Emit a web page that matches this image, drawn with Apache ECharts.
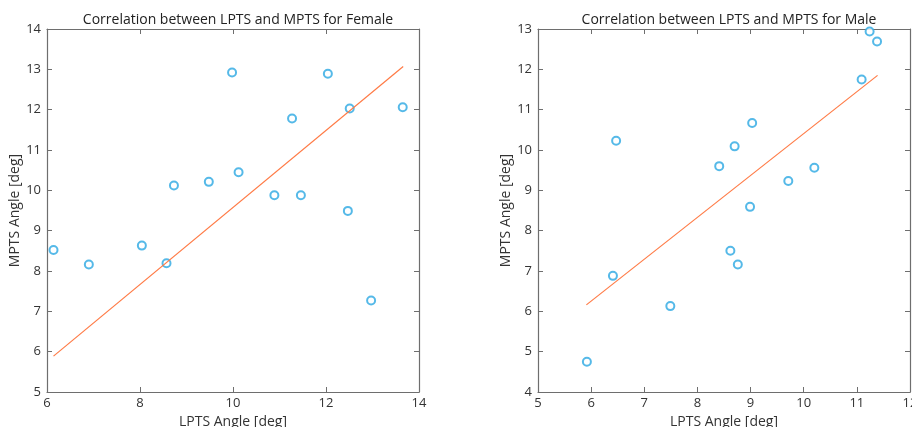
<!DOCTYPE html>
<html>
<head>
<meta charset="utf-8">
<script src="https://cdn.jsdelivr.net/npm/echarts@6/dist/echarts.min.js"></script>
<style>
  html, body { margin: 0; padding: 0; background: #fff; }
  #chart { width: 912px; height: 427px; }
</style>
</head>
<body>
<div id="chart"></div>
<script>
// female: LPTS (x) vs MPTS (y)
const femaleLpts = [6.14, 6.90, 8.04, 8.57, 8.73, 9.48, 9.98, 10.12, 10.89, 11.27, 11.46, 12.04, 12.47, 12.51, 12.97, 13.65];
const femaleMpts = [8.52, 8.16, 8.63, 8.19, 10.12, 10.21, 12.92, 10.45, 9.88, 11.78, 9.88, 12.89, 9.49, 12.03, 7.27, 12.06];
const femaleFitX = [6.14, 13.66];
const femaleFitY = [5.89, 13.07];

// male
const maleLpts = [5.92, 6.41, 6.47, 7.49, 8.41, 8.62, 8.70, 8.76, 8.99, 9.03, 9.71, 10.20, 11.09, 11.24, 11.38];
const maleMpts = [4.75, 6.88, 10.23, 6.13, 9.60, 7.50, 10.09, 7.16, 8.59, 10.67, 9.23, 9.56, 11.75, 12.94, 12.69];
const maleFitX = [5.91, 11.39];
const maleFitY = [6.16, 11.85];

const titles = ['Correlation between LPTS and MPTS for Female', 'Correlation between LPTS and MPTS for Male'];
const xRanges = [[6, 14, 2], [5, 12, 1]];
const yRanges = [[5, 14, 1], [4, 13, 1]];

const FONT = '"Open Sans", "DejaVu Sans", sans-serif';
const AXIS_COLOR = '#6e6e6e';
const MARKER = '#2ba8e2';
const FIT = '#ff7a45';

const pairs = (xs, ys) => xs.map((x, i) => [x, ys[i]]);

function xAxes(gi) {
  const [min, max, interval] = xRanges[gi];
  const base = {
    type: 'value', gridIndex: gi, min, max, interval,
    splitLine: { show: false },
    axisLine: { show: true, onZero: false, lineStyle: { color: AXIS_COLOR, width: 1.2 } },
    axisTick: { show: true, inside: true, length: 5, lineStyle: { color: AXIS_COLOR } },
  };
  return [
    Object.assign({}, base, {
      position: 'bottom',
      name: 'LPTS Angle [deg]', nameLocation: 'middle', nameGap: 22,
      nameTextStyle: { fontFamily: FONT, fontSize: 14, color: '#333' },
      axisLabel: { fontFamily: FONT, fontSize: 13, color: '#333', margin: 5 },
    }),
    Object.assign({}, base, { position: 'top', axisLabel: { show: false } }),
  ];
}

function yAxes(gi) {
  const [min, max, interval] = yRanges[gi];
  const base = {
    type: 'value', gridIndex: gi, min, max, interval,
    splitLine: { show: false },
    axisLine: { show: true, onZero: false, lineStyle: { color: AXIS_COLOR, width: 1.2 } },
    axisTick: { show: true, inside: true, length: 5, lineStyle: { color: AXIS_COLOR } },
  };
  return [
    Object.assign({}, base, {
      position: 'left',
      name: 'MPTS Angle [deg]', nameLocation: 'middle', nameGap: 22,
      nameTextStyle: { fontFamily: FONT, fontSize: 14, color: '#333' },
      axisLabel: { fontFamily: FONT, fontSize: 13, color: '#333', margin: 6 },
    }),
    Object.assign({}, base, { position: 'right', axisLabel: { show: false } }),
  ];
}

const chart = echarts.init(document.getElementById('chart'));
chart.setOption({
  animation: false,
  backgroundColor: '#fff',
  title: titles.map((t, i) => ({
    text: t,
    left: i === 0 ? 233 : 724,
    top: 8,
    textAlign: 'center',
    textStyle: { fontFamily: FONT, fontSize: 14, fontWeight: 'normal', color: '#222' },
  })),
  grid: [
    { left: 47, right: 493, top: 29, bottom: 35, outerBoundsMode: 'none' },
    { left: 538, right: 2, top: 29, bottom: 35, outerBoundsMode: 'none' },
  ],
  xAxis: [...xAxes(0), ...xAxes(1)],
  yAxis: [...yAxes(0), ...yAxes(1)],
  series: [
    {
      type: 'scatter', xAxisIndex: 0, yAxisIndex: 0,
      data: pairs(femaleLpts, femaleMpts),
      symbol: 'emptyCircle', symbolSize: 8,
      itemStyle: { color: MARKER, borderColor: MARKER, borderWidth: 1.6 },
    },
    {
      type: 'line', xAxisIndex: 0, yAxisIndex: 0,
      data: pairs(femaleFitX, femaleFitY),
      showSymbol: false, lineStyle: { color: FIT, width: 1.2 },
    },
    {
      type: 'scatter', xAxisIndex: 2, yAxisIndex: 2,
      data: pairs(maleLpts, maleMpts),
      symbol: 'emptyCircle', symbolSize: 8,
      itemStyle: { color: MARKER, borderColor: MARKER, borderWidth: 1.6 },
    },
    {
      type: 'line', xAxisIndex: 2, yAxisIndex: 2,
      data: pairs(maleFitX, maleFitY),
      showSymbol: false, lineStyle: { color: FIT, width: 1.2 },
    },
  ],
});
</script>
</body>
</html>
